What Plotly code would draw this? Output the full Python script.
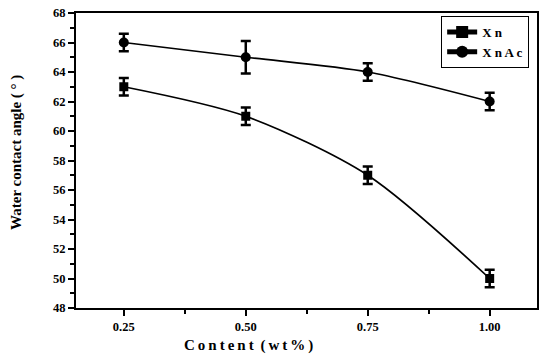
import plotly.graph_objects as go

content = [0.25, 0.50, 0.75, 1.00]
xn = [63.0, 61.0, 57.0, 50.0]
xn_err = [0.6, 0.6, 0.6, 0.6]
xnac = [66.0, 65.0, 64.0, 62.0]
xnac_err = [0.6, 1.1, 0.6, 0.6]
y_ticks = [48, 50, 52, 54, 56, 58, 60, 62, 64, 66, 68]
x_ticks = [0.25, 0.50, 0.75, 1.00]
x_labels = ["0.25", "0.50", "0.75", "1.00"]

font_family = "Times New Roman, Liberation Serif, serif"

fig = go.Figure()
fig.add_trace(go.Scatter(
    x=content, y=xn, name="<b>X n</b>", mode="lines+markers",
    line=dict(color="black", width=1.7, shape="spline", smoothing=0.8),
    marker=dict(symbol="square", size=9, color="black"),
    error_y=dict(type="data", array=xn_err, visible=True, color="black", thickness=2.5, width=5),
))
fig.add_trace(go.Scatter(
    x=content, y=xnac, name="<b>X n A c</b>", mode="lines+markers",
    line=dict(color="black", width=1.7, shape="spline", smoothing=0.8),
    marker=dict(symbol="circle", size=10, color="black"),
    error_y=dict(type="data", array=xnac_err, visible=True, color="black", thickness=2.5, width=5),
))

axis_common = dict(
    showgrid=False, zeroline=False, showline=True, linecolor="black", linewidth=2,
    mirror=True, ticks="outside", tickcolor="black", tickwidth=2, ticklen=6,
    automargin=False, ticklabeloverflow="allow",
    tickfont=dict(family=font_family, size=12.5, color="black"),
)

fig.update_layout(
    template="none",
    width=550, height=363,
    margin=dict(l=76, r=13, t=13, b=55),
    plot_bgcolor="white", paper_bgcolor="white",
    font=dict(family=font_family, color="black"),
    xaxis=dict(
        range=[0.152, 1.097], tickvals=x_ticks,
        ticktext=["<b>%s</b>" % t for t in x_labels],
        minor=dict(tickvals=[0.375, 0.625, 0.875], ticks="outside", ticklen=4, tickwidth=2, tickcolor="black"),
        **axis_common,
    ),
    yaxis=dict(
        range=[48, 68], tickvals=y_ticks,
        ticktext=["<b>%d</b>" % v for v in y_ticks],
        minor=dict(dtick=1, ticks="outside", ticklen=4, tickwidth=2, tickcolor="black"),
        **axis_common,
    ),
    legend=dict(
        x=0.983, y=0.99, xanchor="right", yanchor="top",
        bgcolor="white", bordercolor="black", borderwidth=1,
        font=dict(family=font_family, size=13),
        tracegroupgap=0, itemsizing="constant",
    ),
    annotations=[
        dict(text="<b>C\u2009o\u2009n\u2009t\u2009e\u2009n\u2009t\u2009 (\u2009w\u2009t\u2009%\u2009)</b>",
             xref="paper", yref="paper", x=0.375, y=-0.128, xanchor="center", yanchor="middle",
             showarrow=False, font=dict(family=font_family, size=15)),
        dict(text="<b>Water contact angle ( ° )</b>",
             xref="paper", yref="paper", x=-0.128, y=0.529, xanchor="center", yanchor="middle",
             textangle=-90, showarrow=False, font=dict(family=font_family, size=15)),
    ],
)

fig.write_html("out.html", config={"displayModeBar": False},
               post_script="document.body.style.margin='0';")
